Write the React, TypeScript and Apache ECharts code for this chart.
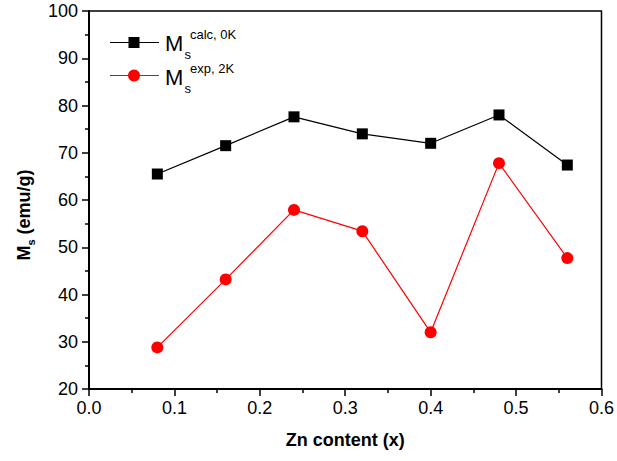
import React, { useEffect, useRef } from "react";
import * as echarts from "echarts";

const xValues = [0.08, 0.16, 0.24, 0.32, 0.40, 0.48, 0.56];
const calcValues = [65.5, 71.5, 77.6, 74.0, 72.0, 78.0, 67.4];
const expValues = [28.8, 43.2, 57.9, 53.4, 32.0, 67.8, 47.7];
const xTitle = "Zn content (x)";
const legendSup = ["calc, 0K", "exp, 2K"];

const FONT = "'Liberation Sans', Arial, sans-serif";

export default function App() {
  const ref = useRef<HTMLDivElement>(null);
  useEffect(() => {
    if (!ref.current) return;
    const chart = echarts.init(ref.current, undefined, { renderer: "svg" });
    const grid = { left: 89, right: 14, top: 11, bottom: 72 };
    chart.setOption({
      animation: false,
      backgroundColor: "#fff",
      textStyle: { fontFamily: FONT },
      grid: { ...grid, show: true, borderColor: "#000", borderWidth: 1.5 },
      xAxis: {
        type: "value",
        min: 0,
        max: 0.6,
        interval: 0.1,
        splitLine: { show: false },
        axisLine: { lineStyle: { color: "#000", width: 2 } },
        axisTick: { length: 7, lineStyle: { color: "#000", width: 1.5 } },
        minorTick: { show: true, splitNumber: 2, length: 4, lineStyle: { color: "#000", width: 1.5 } },
        axisLabel: {
          margin: 10,
          fontSize: 18,
          color: "#000",
          fontFamily: FONT,
          formatter: (v: number) => v.toFixed(1),
        },
        name: xTitle,
        nameLocation: "middle",
        nameGap: 42,
        nameTextStyle: { fontSize: 18, fontWeight: "bold", color: "#000", fontFamily: FONT },
      },
      yAxis: {
        type: "value",
        min: 20,
        max: 100,
        interval: 10,
        splitLine: { show: false },
        axisLine: { show: true, lineStyle: { color: "#000", width: 2 } },
        axisTick: { show: true, length: 7, lineStyle: { color: "#000", width: 1.5 } },
        minorTick: { show: true, splitNumber: 2, length: 4, lineStyle: { color: "#000", width: 1.5 } },
        axisLabel: { margin: 11, fontSize: 18, color: "#000", fontFamily: FONT },
      },
      series: [
        {
          type: "line",
          data: xValues.map((x, i) => [x, calcValues[i]]),
          symbol: "rect",
          symbolSize: 11,
          lineStyle: { color: "#000", width: 1.2 },
          itemStyle: { color: "#000" },
        },
        {
          type: "line",
          data: xValues.map((x, i) => [x, expValues[i]]),
          symbol: "circle",
          symbolSize: 12,
          lineStyle: { color: "#ff0000", width: 1.2 },
          itemStyle: { color: "#ff0000" },
        },
      ],
      graphic: [
        // y axis title
        {
          type: "text",
          x: 24,
          y: 215,
          rotation: Math.PI / 2,
          style: {
            text: "{b|M}{s|s}{b| (emu/g)}",
            align: "center",
            verticalAlign: "middle",
            fill: "#000",
            rich: {
              b: { fontSize: 18, fontWeight: "bold", fontFamily: FONT, fill: "#000", lineHeight: 24, verticalAlign: "middle" },
              s: { fontSize: 11, fontWeight: "bold", fontFamily: FONT, fill: "#000", lineHeight: 24, verticalAlign: "bottom" },
            },
          },
        },
        // legend row 1
        { type: "line", shape: { x1: 110, y1: 42.5, x2: 159, y2: 42.5 }, style: { stroke: "#000", lineWidth: 1.2 } },
        { type: "rect", shape: { x: 128.5, y: 37, width: 11, height: 11 }, style: { fill: "#000" } },
        { type: "text", x: 165, y: 43, style: { text: "M", fontSize: 22, fontFamily: FONT, fill: "#000", verticalAlign: "middle" } },
        { type: "text", x: 190, y: 34, style: { text: legendSup[0], fontSize: 13, fontFamily: FONT, fill: "#000", verticalAlign: "middle" } },
        { type: "text", x: 184.5, y: 54, style: { text: "s", fontSize: 13, fontFamily: FONT, fill: "#000", verticalAlign: "middle" } },
        // legend row 2
        { type: "line", shape: { x1: 110, y1: 75.5, x2: 159, y2: 75.5 }, style: { stroke: "#ff0000", lineWidth: 1.2 } },
        { type: "circle", shape: { cx: 134, cy: 75.5, r: 6 }, style: { fill: "#ff0000" } },
        { type: "text", x: 165, y: 77, style: { text: "M", fontSize: 22, fontFamily: FONT, fill: "#000", verticalAlign: "middle" } },
        { type: "text", x: 190, y: 68, style: { text: legendSup[1], fontSize: 13, fontFamily: FONT, fill: "#000", verticalAlign: "middle" } },
        { type: "text", x: 184.5, y: 88, style: { text: "s", fontSize: 13, fontFamily: FONT, fill: "#000", verticalAlign: "middle" } },
      ],
    });
    return () => chart.dispose();
  }, []);
  return <div ref={ref} style={{ width: 617, height: 461, position: "absolute", left: 0, top: 0 }} />;
}
